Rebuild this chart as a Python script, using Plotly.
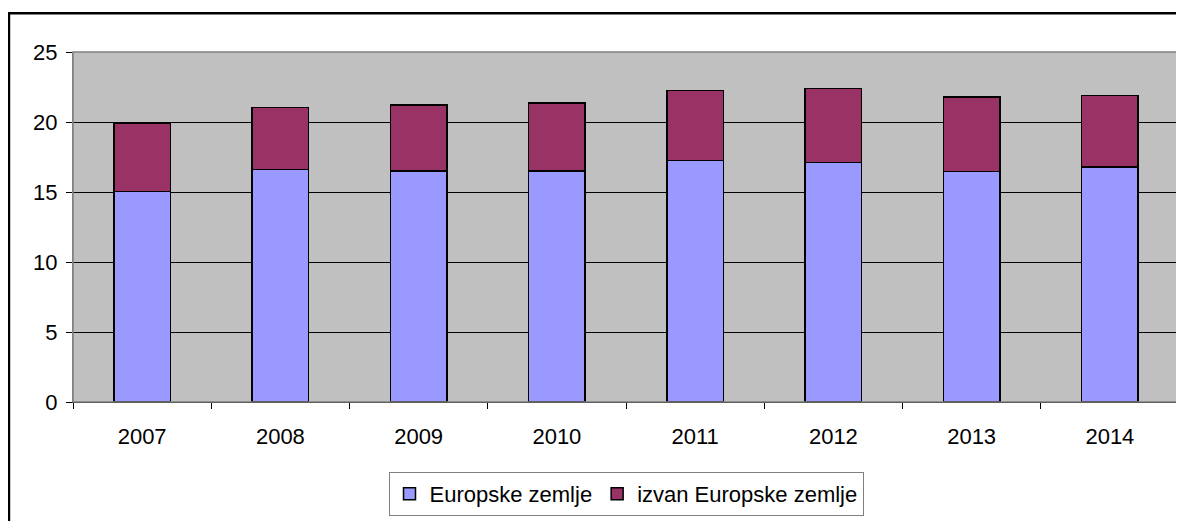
import plotly.graph_objects as go

years = ["2007", "2008", "2009", "2010", "2011", "2012", "2013", "2014"]
europske = [15.05, 16.6, 16.5, 16.5, 17.25, 17.1, 16.45, 16.8]
izvan = [4.85, 4.45, 4.7, 4.85, 5.0, 5.3, 5.35, 5.1]
y_ticks = [0, 5, 10, 15, 20, 25]

FONT = "Liberation Sans, Arial, sans-serif"

fig = go.Figure()
fig.add_trace(go.Bar(
    x=years, y=europske, name="Europske zemlje",
    marker=dict(color="#9999FF", line=dict(color="#000000", width=1.5)),
))
fig.add_trace(go.Bar(
    x=years, y=izvan, name="izvan Europske zemlje",
    marker=dict(color="#993366", line=dict(color="#000000", width=1.5)),
))

fig.update_layout(
    barmode="stack",
    bargap=0.59,
    width=1184, height=521,
    margin=dict(l=65, r=13, t=44, b=127, autoexpand=False),
    paper_bgcolor="#FFFFFF",
    plot_bgcolor="#C0C0C0",
    font=dict(family=FONT, size=22, color="#000000"),
    showlegend=True,
    legend=dict(
        orientation="h",
        traceorder="normal",
        x=0.5, xanchor="center",
        y=-0.2, yanchor="top",
        bordercolor="#808080", borderwidth=1,
        bgcolor="#FFFFFF",
        font=dict(family=FONT, size=22, color="#000000"),
        itemwidth=30,
        tracegroupgap=0,
    ),
    xaxis=dict(
        type="category",
        tickson="boundaries",
        ticks="outside", ticklen=6, tickcolor="#000000", tickwidth=1,
        showline=True, linecolor="#000000", linewidth=1,
        showgrid=False,
        ticklabelstandoff=15,
        mirror=False,
    ),
    yaxis=dict(
        range=[0, 25],
        tickvals=y_ticks,
        ticks="outside", ticklen=6, tickcolor="#000000", tickwidth=1,
        showline=True, linecolor="#808080", linewidth=1,
        showgrid=True, gridcolor="#000000", gridwidth=1,
        zeroline=False,
        ticklabelstandoff=4,
    ),
    shapes=[
        dict(type="rect", xref="paper", yref="paper", x0=0, x1=1, y0=0, y1=1,
             line=dict(color="#808080", width=1.5), fillcolor="rgba(0,0,0,0)", layer="above"),
        dict(type="rect", xref="paper", yref="paper", x0=-0.0579, x1=1.03, y0=-0.42, y1=1.111,
             line=dict(color="#000000", width=2.5), fillcolor="rgba(0,0,0,0)", layer="above"),
    ],
)

fig.write_html("out.html")
